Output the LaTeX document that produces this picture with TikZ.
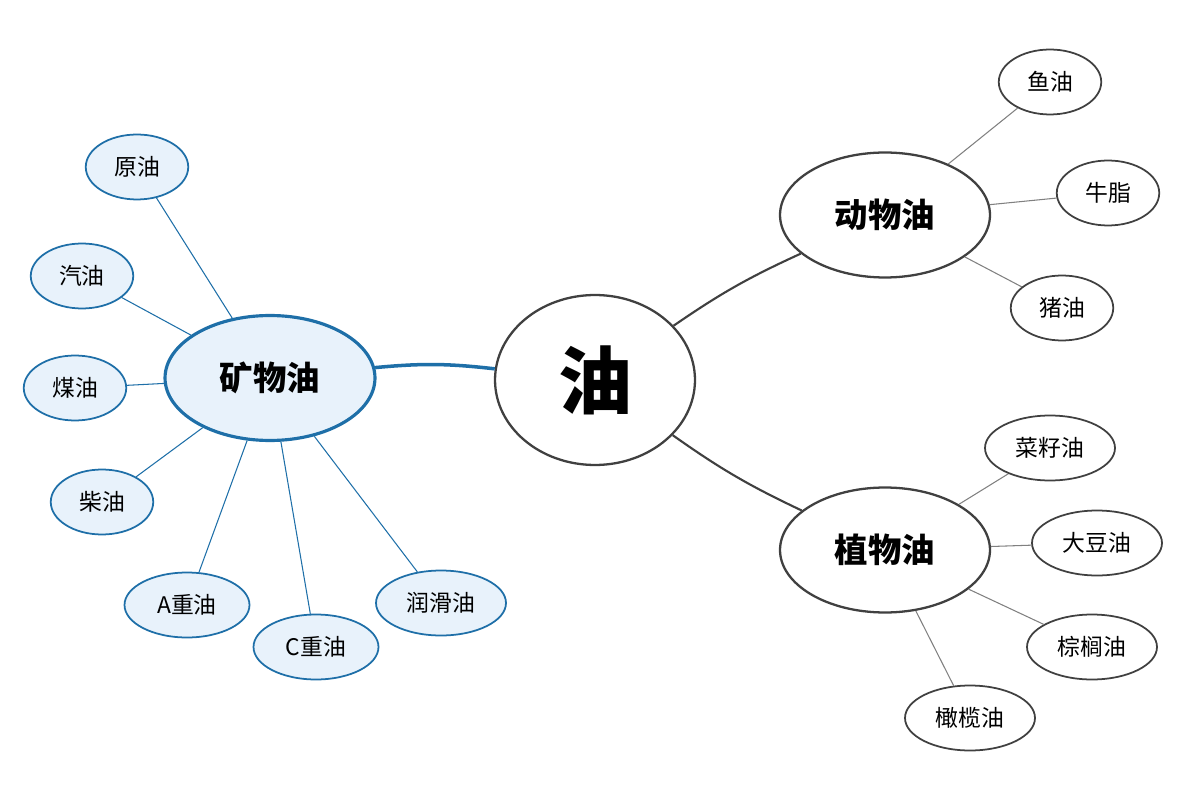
\documentclass[tikz,border=0pt]{standalone}
\usepackage{fontspec}
\newfontfamily\cjk{Noto Sans CJK SC}
\usetikzlibrary{shapes.geometric, positioning}
\definecolor{oilblue}{HTML}{1E6FA8}
\definecolor{oilfill}{HTML}{E8F2FB}
\definecolor{oilgray}{HTML}{404040}

\tikzset{
  leaf/.style = {ellipse, draw=oilgray, line width=1pt, fill=white, font=\cjk\fontsize{13}{15}\selectfont, minimum width=2.05cm, minimum height=1.3cm, inner sep=0pt},
  minleaf/.style = {leaf, draw=oilblue, fill=oilfill},
  branch/.style = {ellipse, draw=oilgray, line width=1.3pt, fill=white, font=\cjk\bfseries\fontsize{19}{22}\selectfont, minimum width=4.2cm, minimum height=2.5cm, inner sep=0pt},
  twig/.style = {draw=gray, line width=0.6pt},
  mintwig/.style = {draw=oilblue, line width=0.6pt},
  limb/.style = {draw=oilgray, line width=1.2pt}
}

\begin{document}
\begin{tikzpicture}[x=0.02cm, y=-0.02cm]
\useasboundingbox (0,0) rectangle (1200,800);

\node[branch, minimum width=4cm, minimum height=3.4cm, font=\cjk\bfseries\fontsize{42}{46}\selectfont] (oil) at (595,380) {油};

\node[branch, draw=oilblue, fill=oilfill, line width=1.8pt] (mineral) at (270,378) {矿物油};
\node[branch] (animal) at (885,215) {动物油};
\node[branch] (plant) at (885,550) {植物油};

% mineral oils
\node[minleaf] (crude) at (137,167) {原油};
\node[minleaf] (petrol) at (82,276) {汽油};
\node[minleaf] (kerosene) at (75,388) {煤油};
\node[minleaf] (diesel) at (102,502) {柴油};
\node[minleaf, minimum width=2.5cm] (heavyA) at (187,605) {A重油};
\node[minleaf, minimum width=2.5cm] (heavyC) at (316,647) {C重油};
\node[minleaf, minimum width=2.6cm] (lube) at (441,603) {润滑油};

% animal oils
\node[leaf] (fish) at (1050,82) {鱼油};
\node[leaf] (tallow) at (1108,193) {牛脂};
\node[leaf] (lard) at (1062,308) {猪油};

% plant oils
\node[leaf, minimum width=2.6cm] (rapeseed) at (1050,448) {菜籽油};
\node[leaf, minimum width=2.6cm] (soy) at (1097,543) {大豆油};
\node[leaf, minimum width=2.6cm] (palm) at (1092,647) {棕榈油};
\node[leaf, minimum width=2.6cm] (olive) at (970,718) {橄榄油};

\draw[draw=oilblue, line width=2pt] (oil) to[bend right=6] (mineral);
\draw[limb] (oil) to[bend left=5] (animal);
\draw[limb] (oil) to[bend right=5] (plant);

\foreach \leafname in {crude, petrol, kerosene, diesel, heavyA, heavyC, lube}
  \draw[mintwig] (mineral) -- (\leafname);
\foreach \leafname in {fish, tallow, lard}
  \draw[twig] (animal) -- (\leafname);
\foreach \leafname in {rapeseed, soy, palm, olive}
  \draw[twig] (plant) -- (\leafname);
\end{tikzpicture}
\end{document}
